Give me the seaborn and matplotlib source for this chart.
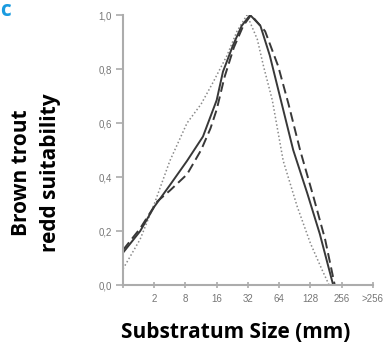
import pandas as pd
import seaborn as sns
import matplotlib
matplotlib.use('Agg')
import matplotlib.pyplot as plt

# Substratum size classes (positions 0..8 on the x axis)
tick_labels = ['', '2', '8', '16', '32', '64', '128', '256', '>256']
y_ticks = [0, 0.2, 0.4, 0.6, 0.8, 1.0]
y_tick_labels = ['0,0', '0,2', '0,4', '0,6', '0,8', '1,0']

# Curves (x in class units, y = suitability)
solid_x = [0, 0.55, 1.0, 1.5, 2.05, 2.56, 3.0, 3.2, 3.53, 3.8, 4.07, 4.4, 4.7, 5.0, 5.45, 5.9, 6.3, 6.73]
solid_y = [0.12, 0.20, 0.29, 0.37, 0.46, 0.55, 0.685, 0.79, 0.89, 0.96, 1.0, 0.96, 0.85, 0.71, 0.50, 0.34, 0.19, 0.0]

dashed_x = [0, 0.55, 1.1, 1.5, 2.05, 2.5, 2.8, 3.0, 3.25, 3.55, 3.85, 4.1, 4.55, 4.97, 5.3, 5.67, 6.09, 6.47, 6.78]
dashed_y = [0.13, 0.21, 0.31, 0.35, 0.41, 0.50, 0.58, 0.65, 0.77, 0.88, 0.96, 1.0, 0.94, 0.81, 0.67, 0.50, 0.33, 0.17, 0.0]

dotted_x = [0.0, 0.55, 1.0, 1.5, 2.05, 2.5, 2.88, 3.33, 3.65, 3.97, 4.3, 4.5, 4.78, 5.13, 5.58, 6.0, 6.38, 6.6]
dotted_y = [0.06, 0.17, 0.30, 0.46, 0.60, 0.67, 0.75, 0.85, 0.94, 1.0, 0.91, 0.81, 0.685, 0.46, 0.29, 0.155, 0.055, 0.0]

sns.set_style('white')
plt.rcParams['font.family'] = ['Open Sans', 'DejaVu Sans']

fig = plt.figure(figsize=(3.88, 3.49), dpi=100)
ax = fig.add_axes([0.317, 0.183, 0.644, 0.774])

sns.lineplot(x=dotted_x, y=dotted_y, ax=ax, color='#8a8a8a', linestyle=(0, (1, 1.5)), linewidth=1.1, sort=False)
sns.lineplot(x=solid_x, y=solid_y, ax=ax, color='#383838', linestyle='-', linewidth=1.4, sort=False)
sns.lineplot(x=dashed_x, y=dashed_y, ax=ax, color='#383838', linestyle=(0, (5, 2.5)), linewidth=1.4, sort=False)

ax.set_xlim(0, 8)
ax.set_ylim(0, 1)
ax.set_xticks(range(9))
ax.set_xticklabels(tick_labels, family='Liberation Sans')
ax.set_yticks(y_ticks)
ax.set_yticklabels(y_tick_labels, family='Liberation Sans')

for side in ['top', 'right']:
    ax.spines[side].set_visible(False)
for side in ['left', 'bottom']:
    ax.spines[side].set_color('#acacac')
    ax.spines[side].set_linewidth(1.5)

ax.tick_params(axis='y', direction='out', length=5, width=1.2, color='#acacac',
               labelsize=7, labelcolor='#767676', pad=3, left=True)
ax.tick_params(axis='x', direction='inout', length=5, width=1.2, color='#acacac',
               labelsize=7, labelcolor='#767676', pad=4, bottom=True)

fig.text(0.608, 0.048, 'Substratum Size (mm)', ha='center', va='center',
         fontsize=15, fontweight='bold', color='black')
fig.text(0.094, 0.505, 'Brown trout\nredd suitability', ha='center', va='center',
         rotation=90, fontsize=15, fontweight='bold', color='black', linespacing=1.5)
fig.text(0.0, 1.0, 'c', ha='left', va='top', fontsize=15, fontweight='bold', color='#1a9be0')

fig.savefig('out.png', dpi=100)
